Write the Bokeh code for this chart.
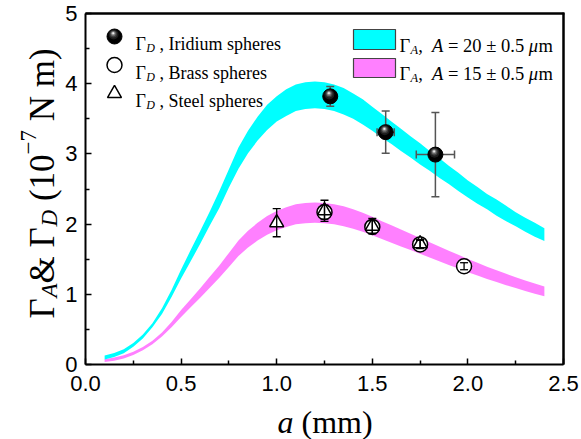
import math
from bokeh.plotting import figure
from bokeh.models import Range1d, Label, FixedTicker, LinearAxis, CustomJSTickFormatter
from bokeh.embed import file_html
from bokeh.resources import INLINE

# ---------------- data ----------------
a_band = [0.10, 0.15, 0.20, 0.25, 0.30, 0.35, 0.40, 0.45, 0.50, 0.55, 0.60, 0.65,
          0.70, 0.75, 0.80, 0.85, 0.90, 0.95, 1.00, 1.05, 1.10, 1.15, 1.20, 1.25,
          1.30, 1.35, 1.40, 1.45, 1.50, 1.55, 1.60, 1.65, 1.70, 1.75, 1.80, 1.85,
          1.90, 1.95, 2.00, 2.05, 2.10, 2.15, 2.20, 2.25, 2.30, 2.35, 2.40]
cyan_upper = [0.128, 0.163, 0.218, 0.308, 0.428, 0.588, 0.80, 1.06, 1.355, 1.63, 1.90, 2.18,
              2.47, 2.78, 3.09, 3.33, 3.53, 3.70, 3.82, 3.92, 3.99, 4.02, 4.03, 4.02,
              3.99, 3.94, 3.86, 3.78, 3.67, 3.57, 3.46, 3.36, 3.25, 3.15, 3.04, 2.94,
              2.83, 2.73, 2.62, 2.53, 2.43, 2.35, 2.26, 2.17, 2.09, 2.02, 1.94]
cyan_lower = [0.072, 0.107, 0.162, 0.252, 0.372, 0.532, 0.72, 0.96, 1.225, 1.47, 1.72, 1.98,
              2.23, 2.52, 2.79, 3.01, 3.19, 3.34, 3.46, 3.54, 3.61, 3.64, 3.65, 3.64,
              3.61, 3.56, 3.50, 3.42, 3.33, 3.23, 3.14, 3.04, 2.95, 2.85, 2.76, 2.66,
              2.57, 2.47, 2.38, 2.29, 2.21, 2.12, 2.04, 1.97, 1.89, 1.82, 1.76]
mag_upper = [0.075, 0.10, 0.13, 0.18, 0.248, 0.34, 0.457, 0.607, 0.775, 0.93, 1.087, 1.25,
             1.41, 1.59, 1.766, 1.904, 2.018, 2.115, 2.187, 2.24, 2.283, 2.30, 2.307, 2.30,
             2.283, 2.253, 2.211, 2.163, 2.103, 2.042, 1.982, 1.922, 1.862, 1.802, 1.742, 1.682,
             1.622, 1.562, 1.502, 1.448, 1.394, 1.343, 1.291, 1.243, 1.195, 1.153, 1.111]
mag_lower = [0.035, 0.052, 0.084, 0.136, 0.202, 0.29, 0.40, 0.531, 0.678, 0.815, 0.951, 1.093,
             1.235, 1.39, 1.545, 1.666, 1.766, 1.85, 1.913, 1.96, 1.997, 2.013, 2.018, 2.013,
             1.997, 1.971, 1.934, 1.892, 1.84, 1.787, 1.734, 1.682, 1.63, 1.577, 1.524, 1.472,
             1.419, 1.367, 1.314, 1.267, 1.219, 1.175, 1.13, 1.088, 1.046, 1.009, 0.972]

ir_a = [1.28, 1.57, 1.83]
ir_G = [3.82, 3.31, 2.99]
ir_a_err = [0.0, 0.045, 0.10]
ir_G_err = [0.14, 0.30, 0.60]

br_a = [1.25, 1.50, 1.75, 1.98]
br_G = [2.17, 1.96, 1.71, 1.40]
br_err = [0.10, 0.09, 0.06, 0.05]

st_a = [1.00, 1.25, 1.50, 1.75]
st_G = [2.02, 2.19, 1.97, 1.72]
st_err = [0.20, 0.15, 0.11, 0.06]

x_ticks = [0.0, 0.5, 1.0, 1.5, 2.0, 2.5]
x_minor = [0.25, 0.75, 1.25, 1.75, 2.25]
y_ticks = [0, 1, 2, 3, 4, 5]
y_minor = [0.5, 1.5, 2.5, 3.5, 4.5]

# ---------------- layout ----------------
W, H = 581, 439
L, R, T, B = 85, 18, 13, 75          # pixel position of the data area inside the page
X_MAX, Y_MAX = 2.5, 5.0
PXU = (W - L - R) / X_MAX
PYU = (H - T - B) / Y_MAX


def dx(px):
    return (px - L) / PXU


def dy(py):
    return (H - B - py) / PYU


SERIF = "Liberation Serif"
SANS = "Liberation Sans"
CYAN = "#00FFFF"
MAGENTA = "#FF80FF"

p = figure(width=W, height=H, x_range=Range1d(dx(0), dx(W)), y_range=Range1d(dy(H), dy(0)),
           output_backend="svg", toolbar_location=None, min_border=0,
           min_border_left=0, min_border_right=0, min_border_top=0, min_border_bottom=0)
p.background_fill_color = "white"
p.border_fill_color = "white"
p.outline_line_color = None
p.xgrid.visible = False
p.ygrid.visible = False

xa = p.xaxis[0]
ya = p.yaxis[0]
xa.fixed_location = 0
xa.bounds = (0, X_MAX)
ya.fixed_location = 0
ya.bounds = (0, Y_MAX)
for ax, tk, mn in ((xa, x_ticks, x_minor), (ya, y_ticks, y_minor)):
    ax.ticker = FixedTicker(ticks=tk, minor_ticks=mn)
    ax.axis_line_width = 2
    ax.axis_line_color = "black"
    ax.major_tick_in = 6
    ax.major_tick_out = 0
    ax.minor_tick_in = 4
    ax.minor_tick_out = 0
    ax.major_tick_line_width = 1.5
    ax.minor_tick_line_width = 1.5
    ax.major_label_text_font = SANS
    ax.major_label_text_font_size = "22px"
    ax.major_label_text_color = "black"
xa.major_label_standoff = 11
ya.major_label_standoff = 8
xa.major_label_overrides = {0.0: "0.0", 0.5: "0.5", 1.0: "1.0", 1.5: "1.5", 2.0: "2.0", 2.5: "2.5"}

# ---------------- plot frame on top and right ----------------
# shifted copies of the ranges so that the frame edges sit at the value 0
p.extra_x_ranges = {"edge_x": Range1d(dx(0) - X_MAX, dx(W) - X_MAX)}
p.extra_y_ranges = {"edge_y": Range1d(dy(H) - Y_MAX, dy(0) - Y_MAX)}
blank = CustomJSTickFormatter(code="return ''")
right_ax = LinearAxis(x_range_name="edge_x", fixed_location=0, bounds=(0, Y_MAX),
                      ticker=FixedTicker(ticks=[1.0]), formatter=blank,
                      axis_line_width=2, axis_line_color="black",
                      major_tick_in=0, major_tick_out=0, minor_tick_in=0, minor_tick_out=0,
                      major_label_standoff=0, major_label_text_font_size="10px")
top_ax = LinearAxis(y_range_name="edge_y", fixed_location=0, bounds=(0, X_MAX),
                    ticker=FixedTicker(ticks=[1.0]), formatter=blank,
                    axis_line_width=2, axis_line_color="black",
                    major_tick_in=0, major_tick_out=0, minor_tick_in=0, minor_tick_out=0,
                    major_label_standoff=0, major_label_text_font_size="10px")
p.add_layout(right_ax, "right")
p.add_layout(top_ax, "above")

hx, hy = 1.0 / PXU, 1.0 / PYU
p.quad(left=[0, X_MAX - hx], right=[X_MAX + hx, X_MAX + hx],
       bottom=[Y_MAX - hy, 0], top=[Y_MAX + hy, Y_MAX + hy],
       fill_color="black", line_color=None)

# ---------------- bands ----------------
p.varea(x=a_band, y1=mag_lower, y2=mag_upper, fill_color=MAGENTA)
p.varea(x=a_band, y1=cyan_lower, y2=cyan_upper, fill_color=CYAN)


# ---------------- error bars helpers ----------------
def vbars(xs, ys, es, color, lw, cap):
    lo = [y - e for y, e in zip(ys, es)]
    hi = [y + e for y, e in zip(ys, es)]
    p.segment(x0=xs, y0=lo, x1=xs, y1=hi, line_color=color, line_width=lw)
    p.scatter(xs, lo, marker="dash", size=cap, line_color=color, line_width=lw)
    p.scatter(xs, hi, marker="dash", size=cap, line_color=color, line_width=lw)


def hbars(xs, ys, es, color, lw, cap):
    sel = [(x, y, e) for x, y, e in zip(xs, ys, es) if e > 0]
    if not sel:
        return
    xx = [s[0] for s in sel]
    yy = [s[1] for s in sel]
    ee = [s[2] for s in sel]
    lo = [x - e for x, e in zip(xx, ee)]
    hi = [x + e for x, e in zip(xx, ee)]
    p.segment(x0=lo, y0=yy, x1=hi, y1=yy, line_color=color, line_width=lw)
    p.scatter(lo, yy, marker="dash", size=cap, angle=math.pi / 2, line_color=color, line_width=lw)
    p.scatter(hi, yy, marker="dash", size=cap, angle=math.pi / 2, line_color=color, line_width=lw)


def spheres(xs, ys, size=15):
    p.scatter(xs, ys, marker="circle", size=size, fill_color="black", line_color="black", line_width=1)
    layers = [(0.66, "#1c1c1c", -0.9, -1.9), (0.48, "#3c3c3c", -1.1, -2.5),
              (0.34, "#6a6a6a", -1.2, -2.9), (0.22, "#a8a8a8", -1.3, -3.2),
              (0.12, "#f0f0f0", -1.3, -3.3)]
    for frac, col, ox, oy in layers:
        p.scatter([x + ox / PXU for x in xs], [y - oy / PYU for y in ys], marker="circle",
                  size=size * frac, fill_color=col, line_color=None)


# iridium: bars under spheres
vbars(ir_a, ir_G, ir_G_err, "#555555", 1.5, 8)
hbars(ir_a, ir_G, ir_a_err, "#555555", 1.5, 8)
spheres(ir_a, ir_G)

# brass & steel: markers then bars on top
p.scatter(br_a, br_G, marker="circle", size=15, fill_color="white", line_color="black", line_width=1.5)
p.scatter(st_a, st_G, marker="triangle", size=14, fill_color="white", line_color="black", line_width=1.5)
vbars(br_a, br_G, br_err, "black", 1.3, 8)
vbars(st_a, st_G, st_err, "black", 1.3, 8)

# ---------------- text helpers ----------------
ADV = {' ': 0.25, '&': 0.778, '(': 0.333, ')': 0.333, ',': 0.25, '.': 0.25, '=': 0.564,
       '±': 0.549, '−': 0.564, 'N': 0.722, 'm': 0.778, 'Γ': 0.60, 'A': 0.722, 'D': 0.722,
       'a': 0.444, 'μ': 0.5}
ADV_I = {'A': 0.611, 'D': 0.722, 'a': 0.5, 'μ': 0.52}


def width(s, size, italic):
    tot = 0.0
    for c in s:
        if italic and c in ADV_I:
            tot += ADV_I[c]
        else:
            tot += ADV.get(c, 0.5)
    return tot * size


def run_text(pieces, start, base, vertical=False):
    pos = start
    for txt, size, italic, shift in pieces:
        lead = txt[:len(txt) - len(txt.lstrip(' '))]
        core = txt.strip(' ')
        pos_core = pos + width(lead, size, italic) * (-1 if vertical else 1)
        if vertical:
            x, y, ang = dx(base + shift), dy(pos_core), math.pi / 2
        else:
            x, y, ang = dx(pos_core), dy(base + shift), 0.0
        p.add_layout(Label(x=x, y=y, text=core, text_font=SERIF, angle=ang,
                           text_font_size=f"{size}px",
                           text_font_style="italic" if italic else "normal",
                           text_color="black", text_align="left", text_baseline="alphabetic"))
        pos += width(txt, size, italic) * (-1 if vertical else 1)


# axis titles
run_text([("a", 32, True, 0), (" (mm)", 32, False, 0)], 277, 421)
run_text([("Γ", 35, False, 0), ("A", 23, True, 7), ("& Γ", 35, False, 0), ("D", 23, True, 7),
          (" (10", 35, False, 0), ("−7", 23, False, -14), (" N m)", 35, False, 0)],
         318, 42, vertical=True)

# ---------------- legend (left) ----------------
LX = 114
spheres([dx(LX)], [dy(36)])
p.scatter([dx(LX)], [dy(64.5)], marker="circle", size=15, fill_color="white", line_color="black", line_width=1.5)
p.scatter([dx(LX)], [dy(93)], marker="triangle", size=14, fill_color="white", line_color="black", line_width=1.5)
for base, name in ((43, " , Iridium spheres"), (72, " , Brass spheres"), (100.5, " , Steel spheres")):
    run_text([("Γ", 18, False, 0), ("D", 12, True, 4), (name, 18, False, 0)], 135, base)

# ---------------- legend (right) ----------------
p.quad(left=[dx(353)], right=[dx(395)], top=[dy(29)], bottom=[dy(49)],
       fill_color=CYAN, line_color="#444444", line_width=1.2)
p.quad(left=[dx(353)], right=[dx(395)], top=[dy(58)], bottom=[dy(77)],
       fill_color=MAGENTA, line_color="#444444", line_width=1.2)
for base, val in ((45, " = 20 ± 0.5 "), (73, " = 15 ± 0.5 ")):
    run_text([("Γ", 18.5, False, 0), ("A", 12.5, True, 4), (", ", 18.5, False, 0), (" A", 18.5, True, 0),
              (val, 18.5, False, 0), ("μ", 18.5, True, 0), ("m", 18.5, False, 0)], 399, base)

open("out.html", "w").write(file_html(p, INLINE))
